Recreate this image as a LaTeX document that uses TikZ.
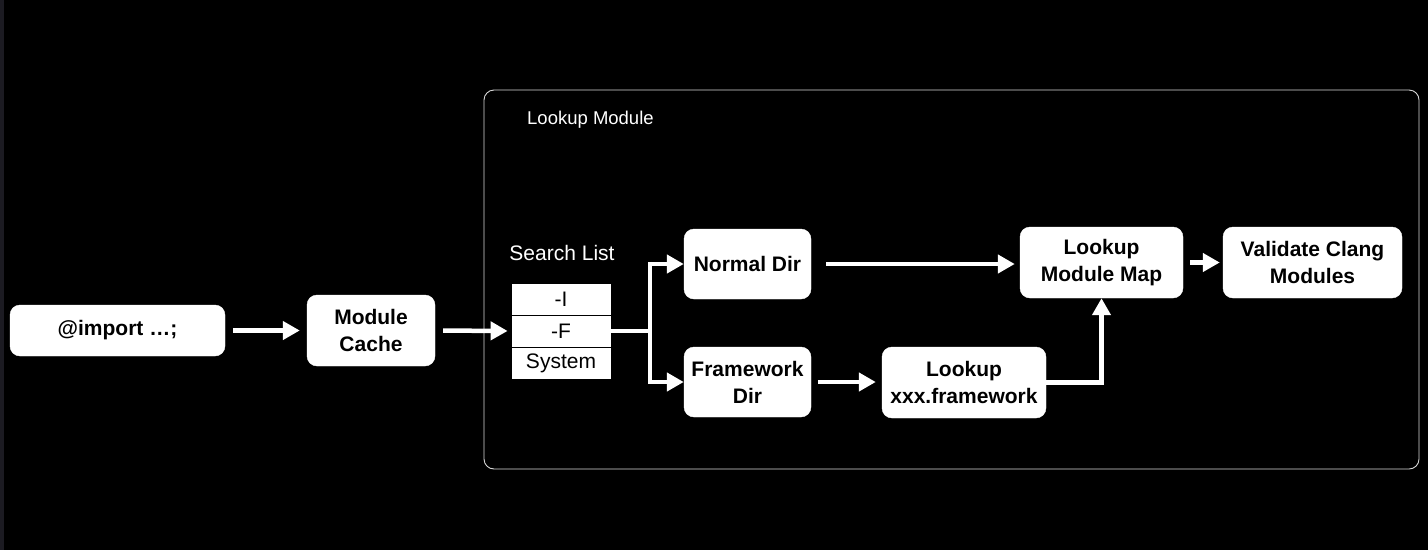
\documentclass[tikz,border=0pt]{standalone}
\usepackage{fontspec}
\setmainfont{Liberation Sans}
\usetikzlibrary{arrows.meta,calc}
\definecolor{strip}{HTML}{1C1B22}
\definecolor{frame}{HTML}{D8D8D8}
\begin{document}
\begin{tikzpicture}[x=1pt,y=-1pt,
  box/.style={draw=white,fill=white,rounded corners=10pt,align=center,
    font=\fontsize{21}{27}\selectfont\bfseries,text=black,inner sep=0pt},
  cell/.style={draw=black,line width=0.8pt,fill=white,minimum width=100pt,
    font=\fontsize{21}{25}\selectfont,text=black,inner sep=0pt},
  arr/.style={draw=white,line width=4.5pt,-{Triangle[length=17pt,width=18pt]}},
  ln/.style={draw=white,line width=4.5pt}]
\useasboundingbox (0,0) rectangle (1428,550);
\fill[black] (0,0) rectangle (1428,550);
\fill[strip] (0,0) rectangle (4,550);
% container
\draw[frame,line width=0.9pt,rounded corners=10pt] (484,90) rectangle (1419,469);
\node[anchor=west,text=white,font=\fontsize{18.5}{22}\selectfont,inner sep=0pt] (lbl) at (527,120) {Lookup Module};
% boxes
\node[box,minimum width=215pt,minimum height=51pt] (imp) at (117.5,330.5) {@import …;};
\node[box,minimum width=128pt,minimum height=71pt] (mc) at (371,330.5) {Module\\Cache};
\node[text=white,font=\fontsize{21}{25}\selectfont,inner sep=0pt] (sl) at (562,253) {Search List};
\node[cell,minimum height=32pt] (sI) at (561,299) {-I};
\node[cell,minimum height=32pt] (sF) at (561,331) {-F};
\node[cell,minimum height=32pt] (sS) at (561,363) {System};
\node[box,minimum width=127pt,minimum height=70pt] (nd) at (747.5,264) {Normal Dir};
\node[box,minimum width=127pt,minimum height=70pt] (fd) at (747.5,382) {Framework\\Dir};
\node[box,minimum width=163pt,minimum height=71pt] (lmm) at (1101.5,262.5) {Lookup\\Module Map};
\node[box,minimum width=179pt,minimum height=71pt] (vcm) at (1312.5,262.5) {Validate Clang\\Modules};
\node[box,minimum width=164pt,minimum height=71pt] (lx) at (964,382.5) {Lookup\\xxx.framework};
% connectors
\draw[arr,shorten <=8pt,shorten >=7pt] (imp.east) -- (mc.west);
\draw[arr,shorten <=8pt,shorten >=3pt] (mc.east) -- (sF.west);
\coordinate (j) at (650,331);
\draw[ln] (sF.east) -- (j);
\draw[ln] ($(j|-nd.west)+(0,-2.25)$) -- ($(j|-fd.west)+(0,2.25)$);
\draw[arr] (j|-nd.west) -- (nd.west);
\draw[arr] (j|-fd.west) -- (fd.west);
\draw[arr,shorten <=15pt,shorten >=5pt] (nd.east) -- (nd.east -| lmm.west);
\draw[arr,shorten <=7pt,shorten >=6pt] (fd.east) -- (fd.east -| lx.west);
\draw[arr,shorten >=0pt] (lx.east) -| (lmm.south);
\draw[arr,shorten <=7pt,shorten >=3pt] (lmm.east) -- (vcm.west);
\end{tikzpicture}
\end{document}
